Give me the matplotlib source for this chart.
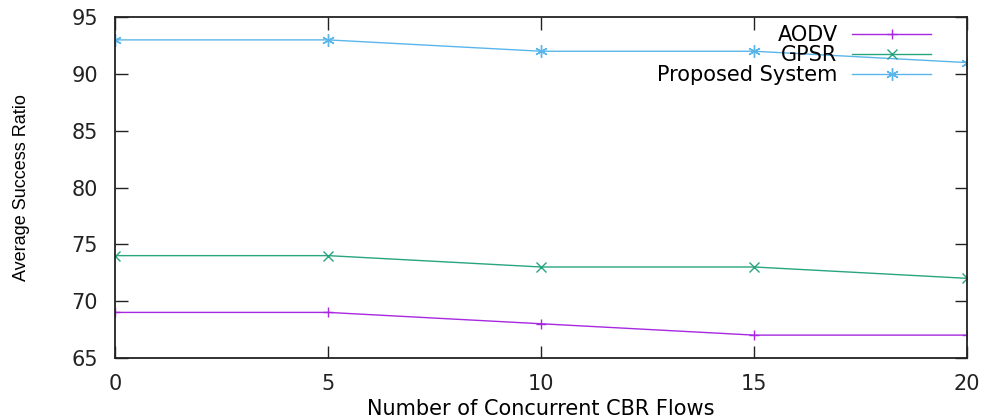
import matplotlib
matplotlib.use("Agg")
import matplotlib.pyplot as plt

flows = [0, 5, 10, 15, 20]
aodv = [69, 69, 68, 67, 67]
gpsr = [74, 74, 73, 73, 72]
proposed = [93, 93, 92, 92, 91]

fig = plt.figure(figsize=(9.9, 4.19), dpi=100)
ax = fig.add_axes([0.116, 0.146, 0.861, 0.813])

ax.plot(flows, aodv, color="#a828e0", lw=1.0, marker="+", ms=7, mew=1.0, label="AODV")
ax.plot(flows, gpsr, color="#28a47e", lw=1.0, marker="x", ms=7, mew=1.0, label="GPSR")
ax.plot(flows, proposed, color="#5ab6ea", lw=1.0, marker=(6, 2, 0), ms=9, mew=1.0,
        label="Proposed System")

ax.set_xlim(0, 20)
ax.set_ylim(65, 95)
ax.set_xticks(flows)
ax.set_yticks(range(65, 96, 5))
ax.tick_params(direction="in", length=9, width=1, top=True, right=True,
               labelsize=15, colors="#222222")
ax.tick_params(axis="y", pad=12)
ax.tick_params(axis="x", pad=12)
for s in ax.spines.values():
    s.set_linewidth(1.3)
    s.set_color("#222222")

ax.set_xlabel("Number of Concurrent CBR Flows", fontsize=15, labelpad=3)
ax.set_ylabel("Average Success Ratio", fontsize=13, labelpad=30,
              family=["Liberation Sans", "DejaVu Sans"])

leg = ax.legend(loc="upper right", bbox_to_anchor=(0.975, 1.02), frameon=False,
                markerfirst=False, fontsize=15, handlelength=3.8,
                labelspacing=0.0, borderaxespad=0.3, handletextpad=0.7)

fig.savefig("out.png", dpi=100)
